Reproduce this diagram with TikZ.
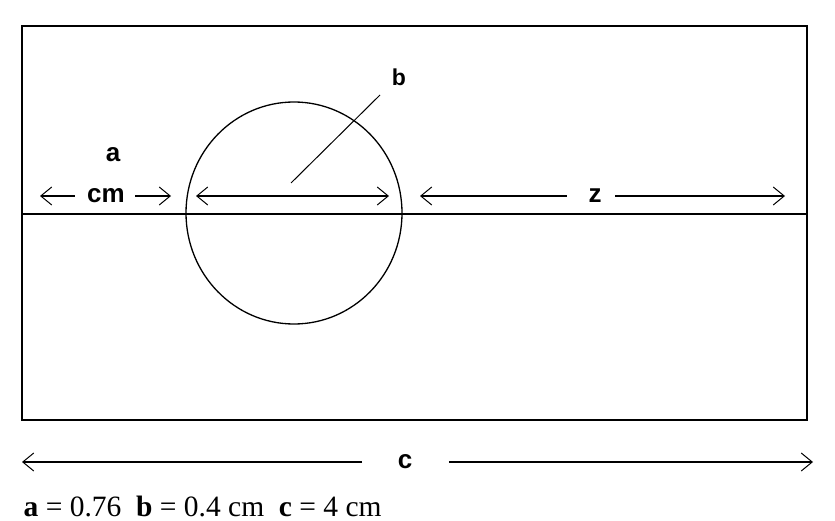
\documentclass[tikz,border=0pt]{standalone}
\usepackage{fontspec}
\setmainfont{Liberation Serif}
\newfontfamily\lblfont{Liberation Sans}
\usetikzlibrary{arrows.meta}
\begin{document}
\begin{tikzpicture}[x=1pt,y=-1pt,line width=1.3pt,
  lbl/.style={font=\lblfont\bfseries\fontsize{26}{28}\selectfont,inner sep=0pt},
  smalllbl/.style={font=\lblfont\bfseries\fontsize{23}{26}\selectfont,inner sep=0pt},
  dimarrow/.style={line width=1.6pt,-{Straight Barb[length=11pt,width=18pt,line width=1pt]}},
  dimboth/.style={line width=1.6pt,{Straight Barb[length=11pt,width=18pt,line width=1pt]}-{Straight Barb[length=11pt,width=18pt,line width=1pt]}}]
\useasboundingbox (0,0) rectangle (835,521);
% frame
\draw (22,26) rectangle (807,420);
\draw (22,214) -- (807,214);
% circle
\draw (294,213) ellipse [x radius=108, y radius=111];
% a / cm
\node[lbl] (a) at (113,155) {a};
\node[lbl] (cm) at (106,196) {cm};
\coordinate (aL) at (40,196);
\coordinate (aR) at (171,196);
\draw[dimarrow] ([xshift=-12pt]cm.west) -- (aL);
\draw[dimarrow] ([xshift=10pt]cm.east) -- (aR);
% diameter
\coordinate (dL) at (196,196);
\coordinate (dR) at (389,196);
\draw[dimboth] (dL) -- (dR);
% b
\node[smalllbl] (b) at (399,77) {b};
\coordinate (bS) at (291,183);
\coordinate (bE) at (380,95);
\draw[line width=1pt] (bS) -- (bE);
% z
\node[lbl] (z) at (595,196) {z};
\coordinate (zL) at (420,196);
\coordinate (zR) at (785,196);
\draw[dimarrow] ([xshift=-21pt]z.west) -- (zL);
\draw[dimarrow] ([xshift=13pt]z.east) -- (zR);
% c
\node[lbl] (c) at (405,462) {c};
\coordinate (cL) at (22,462);
\coordinate (cR) at (813,462);
\draw[dimarrow] ([xshift=-35pt]c.west) -- (cL);
\draw[dimarrow] ([xshift=36pt]c.east) -- (cR);
% values
\node[anchor=base west,inner sep=0pt,font=\fontsize{29.5}{32}\selectfont] (vals) at (23,516)
  {\textbf{a} = 0.76\ \ \textbf{b} = 0.4 cm\ \ \textbf{c} = 4 cm};
\end{tikzpicture}
\end{document}
